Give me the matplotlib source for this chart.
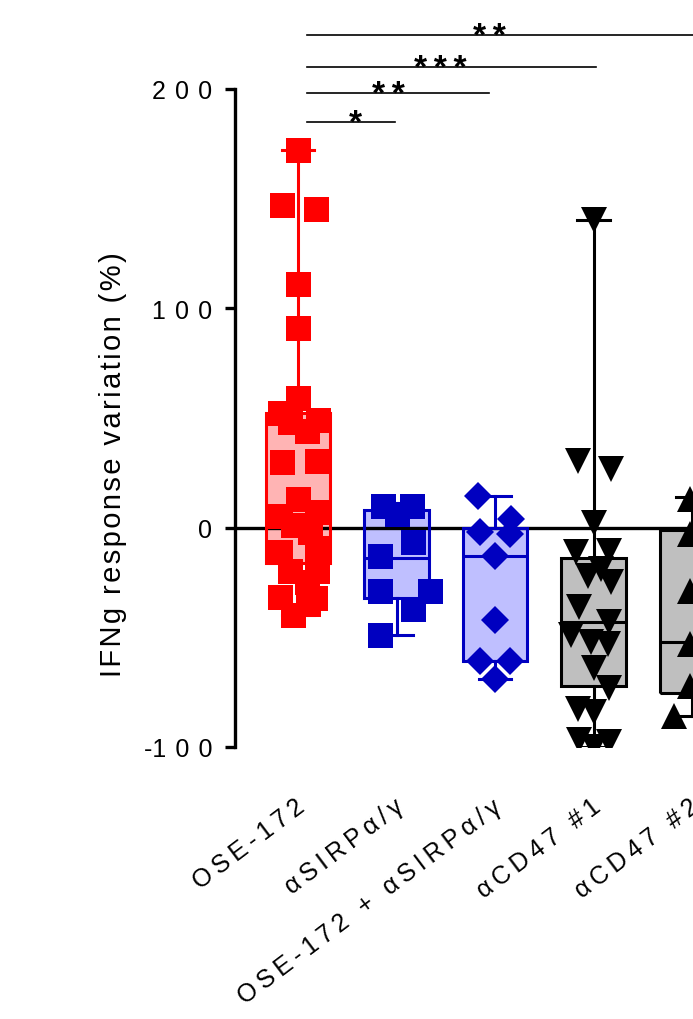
import matplotlib
matplotlib.use("Agg")
import matplotlib.pyplot as plt
import numpy as np

plt.rcParams['font.family'] = ['Liberation Sans', 'DejaVu Sans']

# === DATA ===
groups = ["OSE-172", "αSIRPα/γ", "OSE-172 + αSIRPα/γ", "αCD47 #1", "αCD47 #2"]

ose_vals = [172, 147, 145, 111, 91, 59, 52, 49, 48, 44, 30, 30.5, 13, 5.5, 7, 1, -2,
            -11, -9.5, -20, -20, -25, -31.5, -32, -35, -40]
ose_x = [0, -16, 18, 0, 0, 0, -18, 20, -8, 9, -16, 19, 0, -18, 19, -5, 12,
         -18, 19, -8, 19, 9, -18, 17, 10, -5]

sirp_vals = [10, 10, 6, -6.5, -13, -29, -29, -37, -49]
sirp_x = [-14, 15, 0, 16, -17, -17, 33, 16, -17]

combo_vals = [14.5, 4, -2, -2.7, -13, -42, -61, -61, -69]
combo_x = [-17, 16, -15, 15, 0, 0, -15, 15, 0]

cd47a_vals = [140, 30.5, 26.5, 2, -11, -10.5, -22, -19, -25, -36, -43, -49, -52, -53,
              -64, -73, -82.5, -84, -97, -97.5, -100]
cd47a_x = [0, -16, 17, 0, -18, 15, -6, 7, 17, -15, 15, -23, -3, 14,
           0, 15, -16, 0, -15, 15, 0]

cd47b_vals = [13, -3, -29, -53, -72, -86]
cd47b_x = [-2, -2, -2, -2, -2, -18]

# box statistics (quartiles, median, min/max whiskers)
box_q1 = [-16, -32, -61, -72, -75.5]
box_med = [8.5, -14, -13, -43, -52]
box_q3 = [52, 8, 0, -14, -1]
whis_lo = [-40, -49, -69, -100, -86]
whis_hi = [172, 11, 14.5, 140, 14]

# significance brackets
sig_start = [0.09, 0.09, 0.09, 0.09]
sig_end = [0.98, 1.94, 3.03, 4.3]
sig_y = [185, 198, 210, 224.5]
sig_text = ["*", "**", "***", "**"]
sig_text_x = [0.58, 0.92, 1.44, 1.94]

# === STYLE ===
edge_cols = ['#FF0000', '#0000C0', '#0000C0', '#000000', '#000000']
fill_cols = ['#FFB4B4', '#BFBFFF', '#BFBFFF', '#BFBFBF', '#BFBFBF']
markers = ['s', 's', 'D', 'v', '^']
msizes = [18, 18, 14, 19, 19]
px_per_unit = 98.5
px_per_val = 2.195


def spaced(s, sep="\u2009"):
    return sep.join(s)


fig = plt.figure(figsize=(6.93, 10.2), dpi=100)
ax = fig.add_axes([235 / 693, 272 / 1020, 700 / 693, 746 / 1020])
ax.set_xlim(-63 / px_per_unit, -63 / px_per_unit + 700 / px_per_unit)
ax.set_ylim(-100, 240)

stats = []
for i in range(len(groups)):
    stats.append(dict(q1=box_q1[i], med=box_med[i], q3=box_q3[i],
                      whislo=whis_lo[i], whishi=whis_hi[i], fliers=[]))

lw = 2.2
# box fills (behind)
for i, st in enumerate(stats):
    b = ax.bxp([st], positions=[i], widths=0.65, patch_artist=True, showcaps=False,
               showfliers=False, manage_ticks=False,
               boxprops=dict(facecolor=fill_cols[i], edgecolor='none', linewidth=0),
               whiskerprops=dict(linewidth=0), medianprops=dict(linewidth=0))
    for art in b['boxes']:
        art.set_zorder(1)

ax.axhline(0, color='black', lw=2.4, zorder=2)

# points
all_vals = [ose_vals, sirp_vals, combo_vals, cd47a_vals, cd47b_vals]
all_x = [ose_x, sirp_x, combo_x, cd47a_x, cd47b_x]
for i in range(len(groups)):
    xs = i + np.array(all_x[i]) / px_per_unit
    ax.plot(xs, all_vals[i], linestyle='none', marker=markers[i], markersize=msizes[i],
            color=edge_cols[i], markeredgewidth=0, zorder=3)

# box outlines, whiskers, medians (on top)
for i, st in enumerate(stats):
    c = edge_cols[i]
    ax.bxp([st], positions=[i], widths=0.65, patch_artist=True, showfliers=False,
           manage_ticks=False,
           boxprops=dict(facecolor='none', edgecolor=c, linewidth=lw, zorder=4),
           whiskerprops=dict(color=c, linewidth=lw, zorder=4),
           capprops=dict(color=c, linewidth=lw, zorder=4),
           medianprops=dict(color=c, linewidth=lw, zorder=4),
           capwidths=0.33)

# significance
for s0, s1, yy, t, tx in zip(sig_start, sig_end, sig_y, sig_text, sig_text_x):
    ax.plot([s0, s1], [yy, yy], color='black', lw=1.2, clip_on=False, zorder=5)
    ax.text(tx, yy - 10 / px_per_val, spaced(t), ha='center', va='baseline',
            fontsize=24, fontweight='bold', clip_on=False)

# axes styling
for side in ['top', 'right', 'bottom']:
    ax.spines[side].set_visible(False)
ax.spines['left'].set_linewidth(2.4)
ax.spines['left'].set_bounds(-100, 200)
yt = [-100, 0, 100, 200]
ax.set_yticks(yt)
ax.set_yticklabels([("-" if v < 0 else "") + spaced(str(abs(v)), " \u200a") for v in yt],
                   fontsize=18)
ax.tick_params(axis='y', length=7.5, width=2.4, pad=9)
ax.set_xticks([])

fig.text(113 / 693, 1 - 465 / 1020, spaced("IFNg response variation (%)", "\u200a"),
         rotation=90, ha='center', va='center', fontsize=21)

for i, g in enumerate(groups):
    ax.text(i - 3 / px_per_unit, -100 - 47 / px_per_val, spaced(g), rotation=37,
            rotation_mode='anchor', ha='right', va='top', fontsize=18)

fig.savefig("out.png", dpi=100)
